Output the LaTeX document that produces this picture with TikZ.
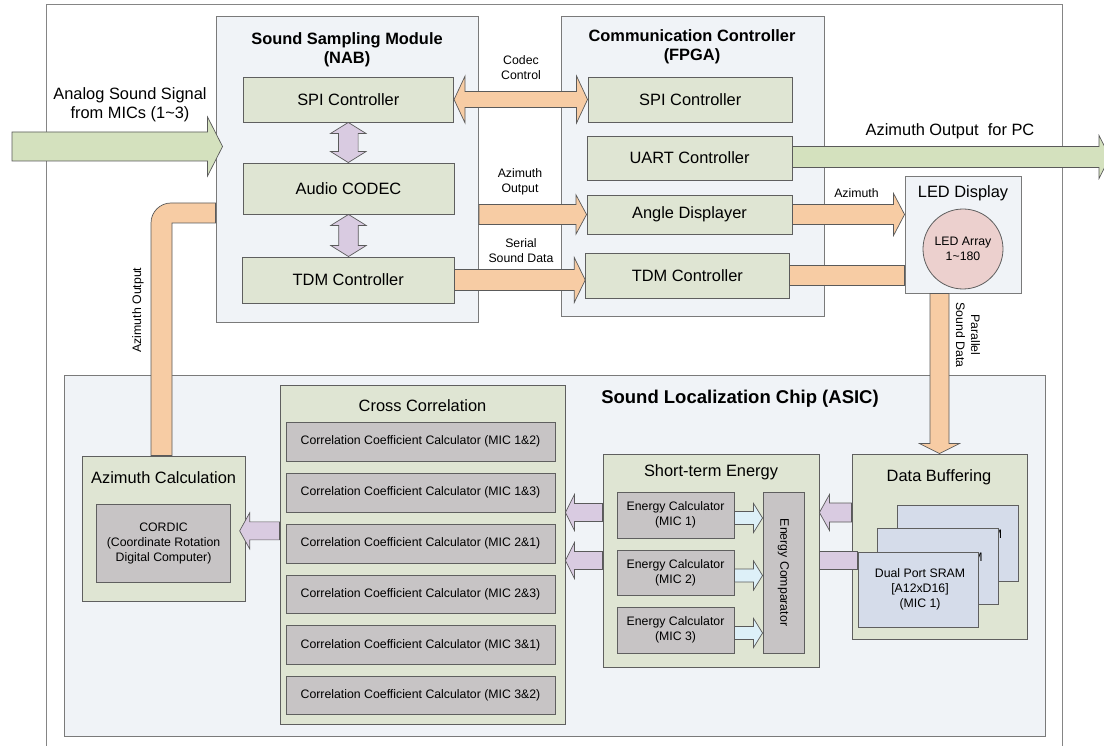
\documentclass[tikz,border=0pt]{standalone}
\usepackage{fontspec}
\setmainfont{Liberation Sans}
\usetikzlibrary{calc}

\definecolor{framegray}{HTML}{858585}
\definecolor{modfill}{HTML}{F0F3F7}
\definecolor{modline}{HTML}{7A7A7A}
\definecolor{gfill}{HTML}{DFE5D3}
\definecolor{boxline}{HTML}{5F5F5F}
\definecolor{grayfill}{HTML}{C7C4C5}
\definecolor{sramfill}{HTML}{D5DCEA}
\definecolor{ledfill}{HTML}{ECD0CE}
\definecolor{orangeA}{HTML}{F7CCA4}
\definecolor{purpleA}{HTML}{D9CBE1}
\definecolor{blueA}{HTML}{DDF0F8}
\definecolor{greenA}{HTML}{D4E1BE}
\definecolor{arrowline}{HTML}{5A5A5A}

\newcommand{\lgtext}{\fontsize{16.4}{19}\selectfont}
\newcommand{\smtext}{\fontsize{12.3}{15}\selectfont}
\newcommand{\ttltext}{\fontsize{18.5}{22}\selectfont\bfseries}

% block arrow: style, tail, tip, shaft half-width, head half-width, head length
\newcommand{\hfat}[6]{%
  \filldraw[#1] let \p1=(#2), \p2=(#3), \n1={sign(\x2-\x1)} in
    (\x1,{\y2+#4}) -- ({\x2-(\n1)*#6},{\y2+#4}) -- ({\x2-(\n1)*#6},{\y2+#5})
    -- (\x2,\y2) -- ({\x2-(\n1)*#6},{\y2-#5}) -- ({\x2-(\n1)*#6},{\y2-#4})
    -- (\x1,{\y2-#4}) -- cycle;}
\newcommand{\vfat}[6]{%
  \filldraw[#1] let \p1=(#2), \p2=(#3), \n1={sign(\y2-\y1)} in
    ({\x2+#4},\y1) -- ({\x2+#4},{\y2-(\n1)*#6}) -- ({\x2+#5},{\y2-(\n1)*#6})
    -- (\x2,\y2) -- ({\x2-#5},{\y2-(\n1)*#6}) -- ({\x2-#4},{\y2-(\n1)*#6})
    -- ({\x2-#4},\y1) -- cycle;}
% double-headed block arrows: style, first tip, second tip, shaft, head, head length
\newcommand{\hdbl}[6]{%
  \filldraw[#1] let \p1=(#2), \p2=(#3) in
    (\x1,\y2) -- ({\x1+#6},{\y2+#5}) -- ({\x1+#6},{\y2+#4}) -- ({\x2-#6},{\y2+#4})
    -- ({\x2-#6},{\y2+#5}) -- (\x2,\y2) -- ({\x2-#6},{\y2-#5}) -- ({\x2-#6},{\y2-#4})
    -- ({\x1+#6},{\y2-#4}) -- ({\x1+#6},{\y2-#5}) -- cycle;}
\newcommand{\vdbl}[6]{%
  \filldraw[#1] let \p1=(#2), \p2=(#3) in
    (\x1,\y1) -- ({\x1+#5},{\y1-#6}) -- ({\x1+#4},{\y1-#6}) -- ({\x1+#4},{\y2+#6})
    -- ({\x1+#5},{\y2+#6}) -- (\x1,\y2) -- ({\x1-#5},{\y2+#6}) -- ({\x1-#4},{\y2+#6})
    -- ({\x1-#4},{\y1-#6}) -- ({\x1-#5},{\y1-#6}) -- cycle;}
% plain band: style, from, to, half-width
\newcommand{\hband}[4]{%
  \filldraw[#1] let \p1=(#2), \p2=(#3) in
    (\x1,{\y2+#4}) rectangle (\x2,{\y2-#4});}

\tikzset{
  xyrect/.style args={#1/#2/#3/#4}{minimum width={(#3)-(#1)}, minimum height={(#4)-(#2)},
    at={({((#1)+(#3))/2},{((#2)+(#4))/2})}},
  base/.style={inner sep=0pt, align=center, line width=0.9pt},
  modbox/.style={base, draw=modline, fill=modfill},
  gbox/.style={base, draw=boxline, fill=gfill, font=\lgtext},
  graybox/.style={base, draw=boxline, fill=grayfill, font=\smtext},
  srambox/.style={base, draw=boxline, fill=sramfill, font=\smtext},
  txt/.style={inner sep=0pt, align=center, font=\smtext},
  bigtxt/.style={inner sep=0pt, align=center, font=\lgtext},
  boldtxt/.style={inner sep=0pt, align=center, font=\lgtext\bfseries},
  oarrow/.style={fill=orangeA, draw=arrowline, line width=0.7pt},
  parrow/.style={fill=purpleA, draw=arrowline, line width=0.7pt},
  barrow/.style={fill=blueA, draw=arrowline, line width=0.7pt},
  garrow/.style={fill=greenA, draw=arrowline, line width=0.7pt},
}

\begin{document}
\begin{tikzpicture}[x=1pt, y=-1pt]
\useasboundingbox (0,0) rectangle (1104,746);
\clip (0,0) rectangle (1104,746);
\fill[white] (0,0) rectangle (1104,746);

% outer frame
\node[base, draw=framegray, line width=1pt, xyrect=46.8/5/1062/760] (frame) {};

% main modules
\node[modbox, xyrect=216/16/478.6/322] (ssm) {};
\node[boldtxt] (ssmt) at (347,49.5) {Sound Sampling Module\\(NAB)};
\node[modbox, xyrect=561.6/16/824/316] (comm) {};
\node[boldtxt] (commt) at (692,47) {Communication Controller\\(FPGA)};
\node[modbox, xyrect=905/176/1021/293] (led) {};
\node[bigtxt] (ledt) at (963,193) {LED Display};
\node[circle, draw=boxline, line width=0.8pt, fill=ledfill, minimum size=80pt, inner sep=0pt,
      align=center, font=\smtext] (ledarr) at (963,249) {LED Array\\1\textasciitilde180};
\node[modbox, xyrect=64/375/1045/736] (asic) {};
\node[inner sep=0pt, font=\ttltext] (asict) at (740,399) {Sound Localization Chip (ASIC)};

% sampling module blocks
\node[gbox, xyrect=243/77/453.6/122] (spiL) {SPI Controller};
\node[gbox, xyrect=243/163/454/214] (codec) {Audio CODEC};
\node[gbox, xyrect=242.5/257/454/303] (tdmL) {TDM Controller};

% communication controller blocks
\node[gbox, xyrect=588/77/792.5/122] (spiR) {SPI Controller};
\node[gbox, xyrect=587/136/792/180] (uart) {UART Controller};
\node[gbox, xyrect=587/195/792/234] (angle) {Angle Displayer};
\node[gbox, xyrect=585.7/253/789/298] (tdmR) {TDM Controller};

% ASIC sub-blocks
\node[gbox, xyrect=82/456/245.7/601.7] (azc) {};
\node[bigtxt] (azct) at (163.6,478) {Azimuth Calculation};
\node[graybox, xyrect=96.4/504/230.7/582.7] (cordic) {CORDIC\\(Coordinate Rotation\\Digital Computer)};

\node[gbox, xyrect=280/385/565/724] (cc) {};
\node[bigtxt] (cct) at (422.5,406) {Cross Correlation};
\node[graybox, xyrect=286/422.3/555/461] (ccc1) {Correlation Coefficient Calculator (MIC 1\&2)};
\node[graybox, xyrect=286/473.3/555/512.2] (ccc2) {Correlation Coefficient Calculator (MIC 1\&3)};
\node[graybox, xyrect=286/524.2/555/563] (ccc3) {Correlation Coefficient Calculator (MIC 2\&1)};
\node[graybox, xyrect=286/575/555/613.5] (ccc4) {Correlation Coefficient Calculator (MIC 2\&3)};
\node[graybox, xyrect=286/625.8/555/664.2] (ccc5) {Correlation Coefficient Calculator (MIC 3\&1)};
\node[graybox, xyrect=286/676.7/555/714.5] (ccc6) {Correlation Coefficient Calculator (MIC 3\&2)};

\node[gbox, xyrect=603/454/819/667] (ste) {};
\node[bigtxt] (stet) at (711,472) {Short-term Energy};
\node[graybox, xyrect=617/492/734/538] (ec1) {Energy Calculator\\(MIC 1)};
\node[graybox, xyrect=617/550/734/595] (ec2) {Energy Calculator\\(MIC 2)};
\node[graybox, xyrect=617/607/734/653] (ec3) {Energy Calculator\\(MIC 3)};
\node[graybox, xyrect=763/492/804/653] (cmp) {};
\node[txt, rotate=-90] (cmpt) at (cmp.center) {Energy Comparator};

% stacked SRAM banks; the rear labels sit low and are mostly covered by the bank in front
\node[gbox, xyrect=852/454/1027/639] (db) {};
\node[bigtxt] (dbt) at (939,477) {Data Buffering};
\node[srambox, xyrect=897/505/1018/581] (sram3) {};
\node[txt] (sram3t) at (957,550) {Dual Port SRAM\\{}[A12xD16]\\(MIC 3)};
\node[srambox, xyrect=877/528/998/604] (sram2) {};
\node[txt] (sram2t) at (937.5,573) {Dual Port SRAM\\{}[A12xD16]\\(MIC 2)};
\node[srambox, xyrect=858/552/978/627] (sram1) {};
\node[txt] (sram1t) at (920,589.5) {Dual Port SRAM\\{}[A12xD16]\\(MIC 1)};

% reference points for free ends and arrow rows
\coordinate (micIn) at (12,146.5);
\coordinate (pcOut) at (1110,157);
\coordinate (rowA) at (0,512.5);
\coordinate (rowB) at (0,560.5);
\coordinate (bend) at (161.5,213);

% connectors
\hfat{garrow}{micIn}{$(ssm.west |- micIn)+(7,0)$}{14.5}{29.5}{15}
\hdbl{oarrow}{spiL.east}{spiR.west}{8}{23.5}{11}
\hfat{oarrow}{ssm.east}{angle.west}{10}{19.5}{10.5}
\hfat{oarrow}{tdmL.east}{tdmR.west |- tdmL.east}{10.5}{22.5}{11}
\hfat{garrow}{uart.east}{pcOut}{10.5}{21.5}{11}
\hfat{oarrow}{angle.east}{led.west |- angle.east}{10}{21}{11}
\hband{oarrow}{tdmR.east}{led.west |- tdmR.east}{10}
\vfat{oarrow}{led.south}{db.north}{9.5}{20}{10}
\filldraw[oarrow] let \p1=(bend), \p2=(azc.north), \p3=(ssm.west) in
  ({\x1-10.5},\y2) -- ({\x1-10.5},{\y1-10}) arc[start angle=180, end angle=90, radius=20pt]
  -- (\x3,{\y1+10}) -- (\x3,{\y1-10}) -- ({\x1+10.5},{\y1-10}) -- ({\x1+10.5},\y2) -- cycle;

\vdbl{parrow}{spiL.south}{codec.north}{9.8}{17.7}{11}
\vdbl{parrow}{codec.south}{tdmL.north}{9.8}{17.7}{11}

\hfat{barrow}{ec1.east}{$(cmp.west |- ec1.east)+(0,3)$}{6.5}{14.5}{9}
\hfat{barrow}{ec2.east}{$(cmp.west |- ec2.east)+(0,3)$}{6.5}{14.5}{9}
\hfat{barrow}{ec3.east}{$(cmp.west |- ec3.east)+(0,3)$}{6.5}{14.5}{9}

\hfat{parrow}{db.west}{ste.east |- rowA}{9.5}{18}{10}
\hband{parrow}{ste.east}{sram1.west |- rowB}{9}
\hfat{parrow}{ste.west}{cc.east |- rowA}{9}{18}{9}
\hfat{parrow}{ste.west}{cc.east |- rowB}{9}{18}{9}
\hfat{parrow}{cc.west}{$(azc.east)+(-6.5,2)$}{9}{18}{10}

% connector labels
\node[bigtxt] (lblmic) at (130,104.5) {Analog Sound Signal\\from MICs (1\textasciitilde3)};
\node[txt] (lblcodec) at (521,67.5) {Codec\\Control};
\node[txt] (lblazo) at (520,181.5) {Azimuth\\Output};
\node[txt] (lblser) at (521,251) {Serial\\Sound Data};
\node[bigtxt] (lblpc) at (950,131) {Azimuth Output\ \ for PC};
\node[txt] (lblaz) at (856.5,193) {Azimuth};
\node[txt, rotate=-90] (lblpar) at (968,335) {Parallel\\Sound Data};
\node[txt, rotate=90] (lblazv) at (138,310) {Azimuth Output};
\end{tikzpicture}
\end{document}
